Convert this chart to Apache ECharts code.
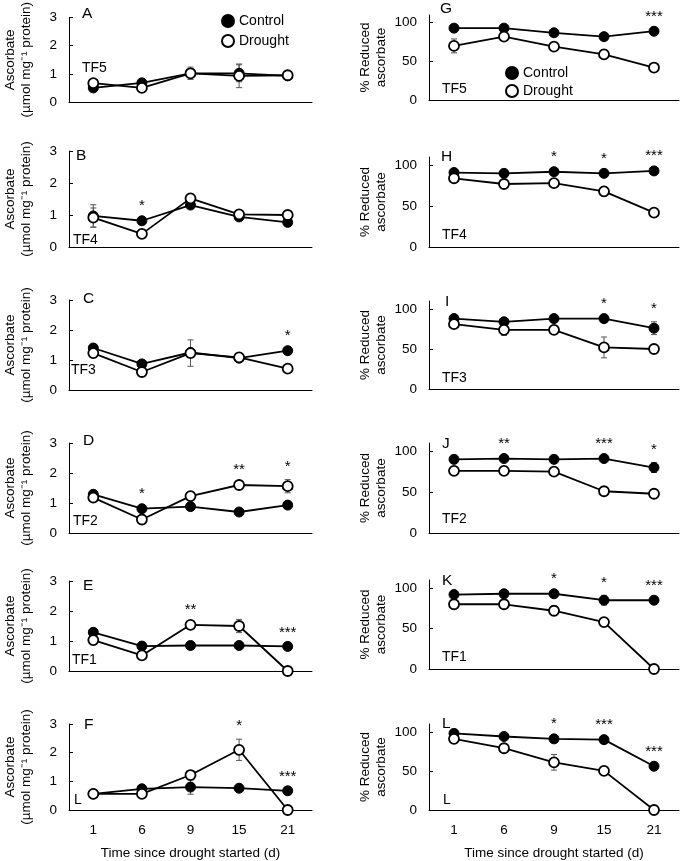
<!DOCTYPE html>
<html>
<head>
<meta charset="utf-8">
<script src="https://cdn.jsdelivr.net/npm/echarts@6/dist/echarts.min.js"></script>
<style>
    html, body { margin: 0; padding: 0; background: #fff; }
    #chart { width: 680px; height: 861px; }
</style>
</head>
<body>
<div id="chart"></div>
<script>
    const days = ['1', '6', '9', '15', '21']

    // A-F: ascorbate (µmol mg-1 protein)
    const aCtrl = [0.50, 0.68, 1.02, 1.02, 0.93]
    const aCtrlErr = [0.03, 0.05, 0.22, 0.30, 0.08]
    const aDrt = [0.67, 0.50, 1.02, 0.93, 0.95]
    const aDrtErr = [0.05, 0.05, 0.15, 0.42, 0.10]
    const aSig = ['', '', '', '', '']

    const bCtrl = [0.97, 0.82, 1.31, 0.94, 0.77]
    const bCtrlErr = [0.35, 0.05, 0.08, 0.05, 0.05]
    const bDrt = [0.92, 0.41, 1.52, 1.02, 1.00]
    const bDrtErr = [0.30, 0.05, 0.05, 0.05, 0.05]
    const bSig = ['', '*', '', '', '']

    const cCtrl = [1.40, 0.87, 1.25, 1.06, 1.31]
    const cCtrlErr = [0.05, 0.05, 0.05, 0.05, 0.05]
    const cDrt = [1.23, 0.60, 1.23, 1.09, 0.71]
    const cDrtErr = [0.05, 0.05, 0.44, 0.05, 0.05]
    const cSig = ['', '', '', '', '*']

    const dCtrl = [1.29, 0.81, 0.88, 0.70, 0.93]
    const dCtrlErr = [0.05, 0.05, 0.05, 0.05, 0.05]
    const dDrt = [1.18, 0.45, 1.23, 1.60, 1.56]
    const dDrtErr = [0.10, 0.05, 0.05, 0.08, 0.22]
    const dSig = ['', '*', '', '**', '*']

    const eCtrl = [1.29, 0.83, 0.85, 0.85, 0.82]
    const eCtrlErr = [0.05, 0.10, 0.03, 0.03, 0.03]
    const eDrt = [1.03, 0.52, 1.54, 1.50, 0.00]
    const eDrtErr = [0.15, 0.05, 0.05, 0.22, 0.00]
    const eSig = ['', '', '**', '', '***']

    const fCtrl = [0.56, 0.74, 0.80, 0.76, 0.67]
    const fCtrlErr = [0.03, 0.05, 0.25, 0.05, 0.05]
    const fDrt = [0.56, 0.56, 1.22, 2.10, 0.00]
    const fDrtErr = [0.05, 0.05, 0.05, 0.37, 0.00]
    const fSig = ['', '', '', '*', '***']

    // G-L: % reduced ascorbate
    const gCtrl = [93, 93, 87, 82, 89]
    const gCtrlErr = [2, 2, 2, 2, 2]
    const gDrt = [70, 82, 69, 59, 42]
    const gDrtErr = [9, 3, 3, 6, 2]
    const gSig = ['', '', '', '', '***']

    const hCtrl = [91, 90, 92, 90, 93]
    const hCtrlErr = [2, 2, 2, 2, 2]
    const hDrt = [84, 77, 78, 68, 42]
    const hDrtErr = [2, 3, 2, 6, 2]
    const hSig = ['', '', '*', '*', '***']

    const iCtrl = [88, 84, 88, 88, 76]
    const iCtrlErr = [2, 2, 2, 2, 8]
    const iDrt = [81, 74, 74, 52, 50]
    const iDrtErr = [2, 7, 3, 13, 2]
    const iSig = ['', '', '', '*', '*']

    const jCtrl = [90, 91, 90, 91, 80]
    const jCtrlErr = [2, 2, 2, 2, 6]
    const jDrt = [76, 76, 75, 51, 48]
    const jDrtErr = [5, 2, 2, 2, 2]
    const jSig = ['', '**', '', '***', '*']

    const kCtrl = [92, 93, 93, 85, 85]
    const kCtrlErr = [2, 2, 2, 6, 2]
    const kDrt = [80, 80, 72, 58, 0]
    const kDrtErr = [2, 2, 6, 2, 0]
    const kSig = ['', '', '*', '*', '***']

    const lCtrl = [98, 94, 91, 90, 56]
    const lCtrlErr = [2, 2, 2, 2, 2]
    const lDrt = [91, 79, 61, 50, 0]
    const lDrtErr = [2, 2, 10, 2, 0]
    const lSig = ['', '', '*', '***', '***']

    const font = '"Liberation Sans", Arial, Helvetica, sans-serif'

    // layout of the 12 panels (col 0 = ascorbate, col 1 = % reduced)
    const panels = [
        {letter: 'A', tissue: 'TF5', col: 0, top: 16, bottom: 102, lx: 82, ly: 14, tx: 82, ty: 68, ctrl: aCtrl, ctrlErr: aCtrlErr, drt: aDrt, drtErr: aDrtErr, sig: aSig},
        {letter: 'G', tissue: 'TF5', col: 1, top: 15, bottom: 100, lx: 440, ly: 9, tx: 442, ty: 89, ctrl: gCtrl, ctrlErr: gCtrlErr, drt: gDrt, drtErr: gDrtErr, sig: gSig},
        {letter: 'B', tissue: 'TF4', col: 0, top: 151, bottom: 247, lx: 76, ly: 156, tx: 73, ty: 240, ctrl: bCtrl, ctrlErr: bCtrlErr, drt: bDrt, drtErr: bDrtErr, sig: bSig},
        {letter: 'H', tissue: 'TF4', col: 1, top: 157, bottom: 247, lx: 441, ly: 157, tx: 442, ty: 235, ctrl: hCtrl, ctrlErr: hCtrlErr, drt: hDrt, drtErr: hDrtErr, sig: hSig},
        {letter: 'C', tissue: 'TF3', col: 0, top: 300, bottom: 390, lx: 83, ly: 299, tx: 71, ty: 370, ctrl: cCtrl, ctrlErr: cCtrlErr, drt: cDrt, drtErr: cDrtErr, sig: cSig},
        {letter: 'I', tissue: 'TF3', col: 1, top: 301, bottom: 389, lx: 445, ly: 302, tx: 442, ty: 378, ctrl: iCtrl, ctrlErr: iCtrlErr, drt: iDrt, drtErr: iDrtErr, sig: iSig},
        {letter: 'D', tissue: 'TF2', col: 0, top: 443, bottom: 533, lx: 83, ly: 441, tx: 73, ty: 521, ctrl: dCtrl, ctrlErr: dCtrlErr, drt: dDrt, drtErr: dDrtErr, sig: dSig},
        {letter: 'J', tissue: 'TF2', col: 1, top: 443, bottom: 533, lx: 442, ly: 444, tx: 442, ty: 519, ctrl: jCtrl, ctrlErr: jCtrlErr, drt: jDrt, drtErr: jDrtErr, sig: jSig},
        {letter: 'E', tissue: 'TF1', col: 0, top: 581, bottom: 671, lx: 83, ly: 586, tx: 72, ty: 660, ctrl: eCtrl, ctrlErr: eCtrlErr, drt: eDrt, drtErr: eDrtErr, sig: eSig},
        {letter: 'K', tissue: 'TF1', col: 1, top: 580, bottom: 669, lx: 442, ly: 581, tx: 442, ty: 657, ctrl: kCtrl, ctrlErr: kCtrlErr, drt: kDrt, drtErr: kDrtErr, sig: kSig},
        {letter: 'F', tissue: 'L', col: 0, top: 724, bottom: 815, lx: 84, ly: 725, tx: 74, ty: 800, ctrl: fCtrl, ctrlErr: fCtrlErr, drt: fDrt, drtErr: fDrtErr, sig: fSig},
        {letter: 'L', tissue: 'L', col: 1, top: 724, bottom: 815, lx: 442, ly: 724, tx: 443, ty: 800, ctrl: lCtrl, ctrlErr: lCtrlErr, drt: lDrt, drtErr: lDrtErr, sig: lSig}
    ]

    function errRender(params, api) {
        let x = api.value(0),
            v = api.value(1),
            e = api.value(2)
        let hi = api.coord([x, v + e]),
            lo = api.coord([x, v - e])
        let st = {stroke: '#555', lineWidth: 1}
        return {
            type: 'group',
            children: [
                {type: 'line', shape: {x1: hi[0], y1: hi[1], x2: lo[0], y2: lo[1]}, style: st},
                {type: 'line', shape: {x1: hi[0] - 3, y1: hi[1], x2: hi[0] + 3, y2: hi[1]}, style: st},
                {type: 'line', shape: {x1: lo[0] - 3, y1: lo[1], x2: lo[0] + 3, y2: lo[1]}, style: st}
            ]
        }
    }

    function sigRender(params, api) {
        let p = api.coord([api.value(0), api.value(1)])
        let txt = panelSig[params.seriesIndex][params.dataIndex]
        return {
            type: 'text',
            x: p[0],
            y: p[1] - 13,
            style: {text: txt, fontSize: 15, fontFamily: font, fill: '#000', align: 'center', verticalAlign: 'middle'}
        }
    }

    let grid = [], xAxis = [], yAxis = [], series = [], graphic = [], panelSig = {}

    panels.forEach((p, i) => {
        let last = i >= 10
        let left = p.col === 0 ? 69 : 429
        let width = p.col === 0 ? 243 : 250
        grid.push({left: left, width: width, top: p.top, height: p.bottom - p.top})
        xAxis.push({
            type: 'category',
            gridIndex: i,
            data: days,
            boundaryGap: true,
            axisLine: {lineStyle: {color: '#000', width: 1}},
            axisTick: {inside: true, length: 4, lineStyle: {color: '#000'}},
            axisLabel: {show: last, color: '#000', fontSize: 13.5, fontFamily: font, margin: 13},
            name: last ? 'Time since drought started (d)' : '',
            nameLocation: 'middle',
            nameGap: 36,
            nameTextStyle: {color: '#000', fontSize: 13.5, fontFamily: font}
        })
        let asc = p.col === 0
        yAxis.push({
            type: 'value',
            gridIndex: i,
            min: 0,
            max: asc ? 3 : 110,
            interval: asc ? 1 : 50,
            splitLine: {show: false},
            axisLine: {show: true, lineStyle: {color: '#000', width: 1}},
            axisTick: {show: true, inside: true, length: 4, lineStyle: {color: '#000'},
                customValues: asc ? [0, 1, 2, 3] : [0, 50, 100]},
            axisLabel: {color: '#000', fontSize: 13.5, fontFamily: font, margin: 12,
                customValues: asc ? [0, 1, 2, 3] : [0, 50, 100]},
            name: asc ? 'Ascorbate\n(µmol mg⁻¹ protein)' : '% Reduced\nascorbate',
            nameLocation: 'middle',
            nameRotate: 90,
            nameGap: asc ? 35 : 40,
            nameTextStyle: {color: '#000', fontSize: 13.5, fontFamily: font, lineHeight: 16, align: 'center'}
        })

        series.push({
            type: 'custom', name: 'err', gridIndex: i, xAxisIndex: i, yAxisIndex: i, z: 1, silent: true,
            renderItem: errRender,
            data: p.ctrl.map((v, k) => [k, v, p.ctrlErr[k]])
                .concat(p.drt.map((v, k) => [k, v, p.drtErr[k]]))
        })
        series.push({
            type: 'line', name: 'Control', xAxisIndex: i, yAxisIndex: i, z: 2,
            data: p.ctrl,
            symbol: 'circle', symbolSize: 10,
            lineStyle: {color: '#000', width: 1.8},
            itemStyle: {color: '#000', borderColor: '#000', borderWidth: 1},
            emphasis: {disabled: true}
        })
        series.push({
            type: 'line', name: 'Drought', xAxisIndex: i, yAxisIndex: i, z: 3,
            data: p.drt,
            symbol: 'circle', symbolSize: 10,
            lineStyle: {color: '#000', width: 1.8},
            itemStyle: {color: '#fff', borderColor: '#000', borderWidth: 1.8},
            emphasis: {disabled: true}
        })
        panelSig[series.length] = p.sig
        series.push({
            type: 'custom', name: 'sig', xAxisIndex: i, yAxisIndex: i, z: 4, silent: true,
            renderItem: sigRender,
            data: p.sig.map((s, k) => [k, Math.max(p.ctrl[k] + p.ctrlErr[k], p.drt[k] + p.drtErr[k])])
        })

        graphic.push({type: 'text', x: p.lx, y: p.ly,
            style: {text: p.letter, fontSize: 15.5, fontFamily: font, fill: '#000', verticalAlign: 'middle'}})
        graphic.push({type: 'text', x: p.tx, y: p.ty,
            style: {text: p.tissue, fontSize: 14, fontFamily: font, fill: '#000', verticalAlign: 'middle'}})
    })

    let legendBase = {
        data: ['Control', 'Drought'],
        orient: 'vertical',
        icon: 'circle',
        itemWidth: 12,
        itemHeight: 12,
        selectedMode: false,
        textStyle: {color: '#000', fontSize: 14, fontFamily: font}
    }

    let option = {
        animation: false,
        backgroundColor: '#fff',
        grid: grid,
        xAxis: xAxis,
        yAxis: yAxis,
        legend: [
            Object.assign({left: 216, top: 9, itemGap: 6}, legendBase),
            Object.assign({left: 500, top: 61, itemGap: 4}, legendBase)
        ],
        graphic: graphic,
        series: series
    }

    let chart = echarts.init(document.getElementById('chart'), null, {renderer: 'canvas'})
    chart.setOption(option)
</script>
</body>
</html>
